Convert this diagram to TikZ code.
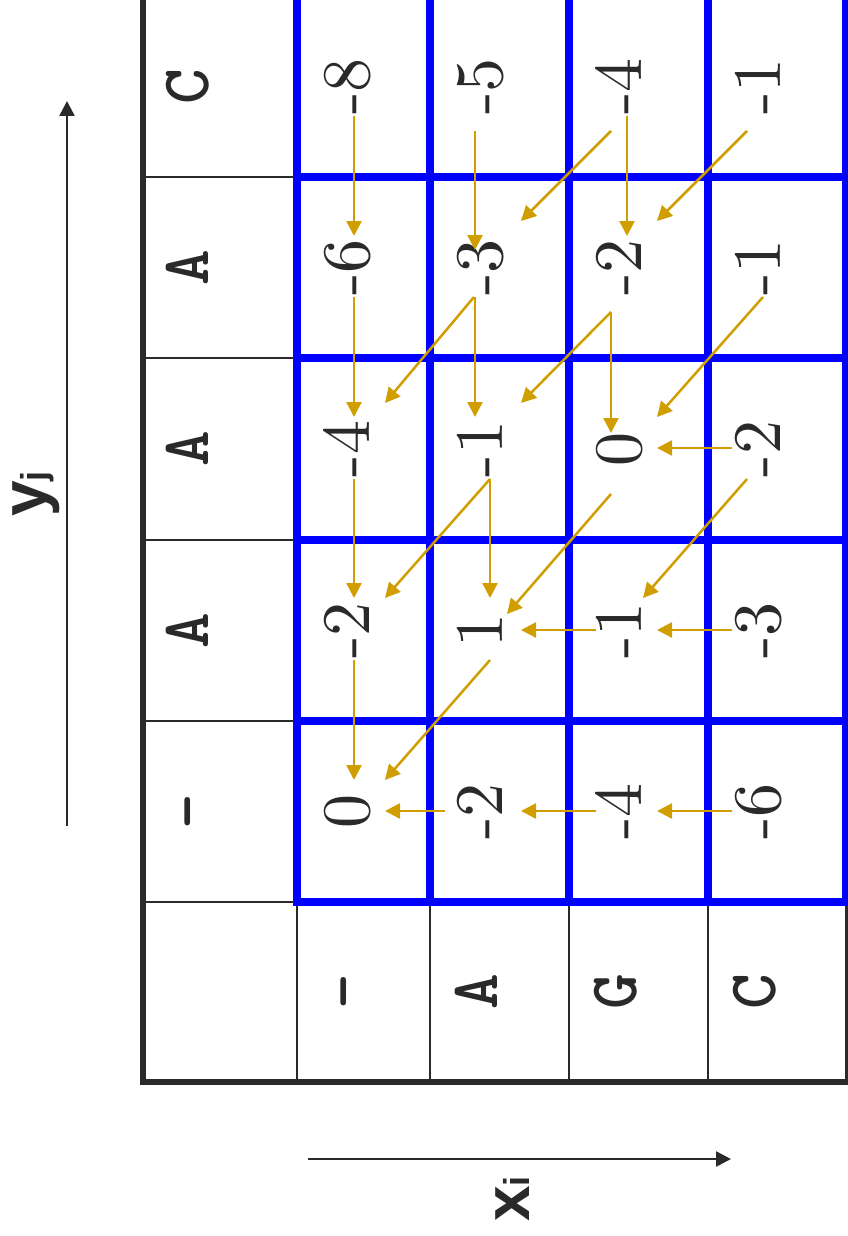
\documentclass[tikz,border=0pt]{standalone}
\usepackage{fontspec}
\newfontfamily\monofnt{lmmonolt10-bold.otf}
\newfontfamily\digfnt{lmroman10-regular.otf}
\newfontfamily\sansfnt{Liberation Sans}
\usetikzlibrary{arrows.meta,calc}
\definecolor{gold}{RGB}{208,158,0}
\definecolor{ink}{RGB}{42,42,42}
\definecolor{gblue}{RGB}{0,0,255}
\begin{document}
\begin{tikzpicture}[x=1pt,y=-1pt,
  val/.style={rotate=90,anchor=base,inner sep=0pt,text=ink,font=\digfnt\fontsize{68}{80}\selectfont},
  hdr/.style={rotate=90,anchor=base,inner sep=0pt,text=ink,font=\monofnt\fontsize{68}{70}\selectfont},
  lab/.style={rotate=90,anchor=base,inner sep=0pt,text=ink,font=\sansfnt\bfseries},
  arr/.style={color=gold,line width=2.5pt,-{Triangle[length=15pt,width=15pt]}},
  axisarr/.style={color=ink,line width=2.5pt,-{Triangle[length=15pt,width=15pt]}},
  blueline/.style={draw=gblue,line width=8pt},
  thinline/.style={draw=ink,line width=2.5pt},
  thickline/.style={draw=ink,line width=6pt,line join=miter}]
\useasboundingbox (0,0) rectangle (848,1236);
\clip (0,0) rectangle (848,1236);
% black table lines
\foreach \y in {177,358,540,721,902} \draw[thinline] (143,\y) -- (297,\y);
\foreach \x in {297,430,569,708} \draw[thinline] (\x,902) -- (\x,1082);
\draw[thickline] (143,-10) -- (143,1082) -- (848,1082) -- (848,-10);
% blue grid
\foreach \x in {297,430,569,708,846} \draw[blueline] (\x,-10) -- (\x,906);
\foreach \y in {177,358,540,721,902} \draw[blueline] (293,\y) -- (860,\y);
% header column
\node[hdr] (hc0) at (208,86.5) {C};
\node[hdr] (hc1) at (208,267.5) {A};
\node[hdr] (hc2) at (208,449) {A};
\node[hdr] (hc3) at (208,630.5) {A};
\node[hdr] (hc4) at (208,811.5) {-};
% header row
\node[hdr] (hr0) at (364,992) {-};
\node[hdr] (hr1) at (497,992) {A};
\node[hdr] (hr2) at (636,992) {G};
\node[hdr] (hr3) at (775,992) {C};
% values
\node[val] (V00) at (369,86.5) {-8};
\node[val] (V01) at (369,267.5) {-6};
\node[val] (V02) at (369,449) {-4};
\node[val] (V03) at (369,630.5) {-2};
\node[val] (V04) at (369,811.5) {0};
\node[val] (V10) at (502,86.5) {-5};
\node[val] (V11) at (502,267.5) {-3};
\node[val] (V12) at (502,449) {-1};
\node[val] (V13) at (502,630.5) {1};
\node[val] (V14) at (502,811.5) {-2};
\node[val] (V20) at (641,86.5) {-4};
\node[val] (V21) at (641,267.5) {-2};
\node[val] (V22) at (641,449) {0};
\node[val] (V23) at (641,630.5) {-1};
\node[val] (V24) at (641,811.5) {-4};
\node[val] (V30) at (780,86.5) {-1};
\node[val] (V31) at (780,267.5) {-1};
\node[val] (V32) at (780,449) {-2};
\node[val] (V33) at (780,630.5) {-3};
\node[val] (V34) at (780,811.5) {-6};
% arrows
\draw[arr] ($(V00.base)+(-15,29.5)$) -- ($(V01.base)+(-15,-31.5)$);
\draw[arr] ($(V10.base)+(-27,44.5)$) -- ($(V11.base)+(-27,-17.5)$);
\draw[arr] ($(V20.base)+(-30,44.5)$) -- ($(V11.base)+(19,-46.5)$);
\draw[arr] ($(V20.base)+(-14,29.5)$) -- ($(V21.base)+(-14,-31.5)$);
\draw[arr] ($(V30.base)+(-33,44.5)$) -- ($(V21.base)+(16,-46.5)$);
\draw[arr] ($(V01.base)+(-15,29.5)$) -- ($(V02.base)+(-15,-32)$);
\draw[arr] ($(V11.base)+(-28,29.5)$) -- ($(V02.base)+(16,-46)$);
\draw[arr] ($(V11.base)+(-27,29.5)$) -- ($(V12.base)+(-27,-32)$);
\draw[arr] ($(V21.base)+(-30,44.5)$) -- ($(V12.base)+(19,-46)$);
\draw[arr] ($(V21.base)+(-30,44.5)$) -- ($(V22.base)+(-30,-16)$);
\draw[arr] ($(V31.base)+(-17,29.5)$) -- ($(V22.base)+(16,-32)$);
\draw[arr] ($(V32.base)+(-48,-1)$) -- ($(V22.base)+(16,-1)$);
\draw[arr] ($(V02.base)+(-15,30)$) -- ($(V03.base)+(-15,-32.5)$);
\draw[arr] ($(V12.base)+(-12,30)$) -- ($(V03.base)+(16,-32.5)$);
\draw[arr] ($(V12.base)+(-12,30)$) -- ($(V13.base)+(-12,-32.5)$);
\draw[arr] ($(V22.base)+(-30,45)$) -- ($(V13.base)+(5,-16.5)$);
\draw[arr] ($(V32.base)+(-33,30)$) -- ($(V23.base)+(2,-32.5)$);
\draw[arr] ($(V23.base)+(-45,-0.5)$) -- ($(V13.base)+(19,-0.5)$);
\draw[arr] ($(V33.base)+(-48,-0.5)$) -- ($(V23.base)+(16,-0.5)$);
\draw[arr] ($(V03.base)+(-15,29.5)$) -- ($(V04.base)+(-15,-31.5)$);
\draw[arr] ($(V13.base)+(-12,29.5)$) -- ($(V04.base)+(16,-31.5)$);
\draw[arr] ($(V14.base)+(-57,-0.5)$) -- ($(V04.base)+(16,-0.5)$);
\draw[arr] ($(V24.base)+(-45,-0.5)$) -- ($(V14.base)+(19,-0.5)$);
\draw[arr] ($(V34.base)+(-48,-0.5)$) -- ($(V24.base)+(16,-0.5)$);
% axes
\coordinate (ya0) at (67,826);
\coordinate (ya1) at (67,101);
\draw[axisarr] (ya0) -- (ya1);
\coordinate (xa0) at (308,1159);
\coordinate (xa1) at (731,1159);
\draw[axisarr] (xa0) -- (xa1);
\node[lab] (ylab) at (46,494) {\fontsize{64}{70}\selectfont y\fontsize{36}{40}\selectfont j};
\node[lab] (xlab) at (529,1199) {\fontsize{64}{70}\selectfont x\fontsize{36}{40}\selectfont i};
\end{tikzpicture}
\end{document}
